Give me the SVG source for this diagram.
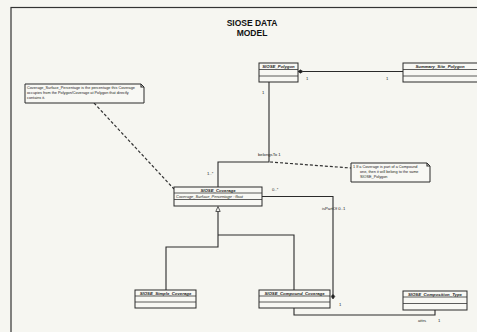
<svg xmlns="http://www.w3.org/2000/svg" width="477" height="332" viewBox="0 0 477 332">
<style>
.bg{fill:#f6f6f1}
.frame{fill:none;stroke:#333;stroke-width:1.2}
.box{fill:#f8f8f4;stroke:#2a2a2a;stroke-width:1}
.sep{stroke:#333;stroke-width:0.8}
.ln{fill:none;stroke:#2a2a2a;stroke-width:1.1}
.dash{fill:none;stroke:#333;stroke-width:1.2;stroke-dasharray:3,2}
.note{fill:#f8f8f4;stroke:#2a2a2a;stroke-width:1}
.cn{font-family:"Liberation Sans",Arial,sans-serif;font-size:4.3px;font-weight:bold;font-style:italic;fill:#222;text-anchor:middle}
.at{font-family:"Liberation Sans",Arial,sans-serif;font-size:4px;font-style:italic;fill:#222}
.nt{font-family:"Liberation Sans",Arial,sans-serif;font-size:3.8px;fill:#222}
.lb{font-family:"Liberation Sans",Arial,sans-serif;font-size:4.2px;fill:#222}
.title{font-family:"Liberation Sans",Arial,sans-serif;font-size:8.5px;font-weight:bold;fill:#111;text-anchor:middle}
</style>
<rect class="bg" x="0" y="0" width="477" height="332"/>
<rect class="frame" x="11" y="7.5" width="470" height="330"/>
<text class="title" x="252" y="26">SIOSE DATA</text>
<text class="title" x="252" y="36">MODEL</text>

<g id="connectors">
  <line class="ln" x1="403" y1="71.5" x2="303" y2="71.5"/>
  <polygon points="298,71.5 300.5,69.8 303,71.5 300.5,73.2" fill="#222" stroke="#222" stroke-width="0.6"/>
  <text class="lb" x="306" y="80">1</text>
  <text class="lb" x="386" y="80">1</text>
  <polyline class="ln" points="269,82 269,162 218,162 218,187"/>
  <text class="lb" x="262" y="94">1</text>
  <text class="lb" x="258" y="156">belongsTo  1</text>
  <text class="lb" x="207" y="175">1..*</text>
  <line class="dash" x1="270" y1="162" x2="351" y2="168"/>
  <line class="dash" x1="94" y1="103" x2="174" y2="189"/>
  <polyline class="ln" points="262,196.5 333,196.5 333,294"/>
  <polygon points="333,299 331.2,296.5 333,294 334.8,296.5" fill="#222" stroke="#222" stroke-width="0.6"/>
  <text class="lb" x="272" y="191">0..*</text>
  <text class="lb" x="322" y="210">isPartOf 0..1</text>
  <text class="lb" x="339" y="306">1</text>
  <polygon points="218,206.5 215.8,211.5 220.2,211.5" fill="#f8f8f4" stroke="#333" stroke-width="0.8"/>
  <polyline class="ln" points="218,211.5 218,247 166,247 166,290"/>
  <polyline class="ln" points="218,235 294,235 294,290"/>
  <polyline class="ln" points="294,308 294,315 435,315 435,310"/>
  <text class="lb" x="418" y="322">attrs</text>
  <text class="lb" x="438" y="322">1</text>
</g>

<g id="siose_polygon">
  <rect class="box" x="259" y="63" width="39" height="19"/>
  <line class="sep" x1="259" y1="69.5" x2="298" y2="69.5"/>
  <line class="sep" x1="259" y1="76" x2="298" y2="76"/>
  <text class="cn" x="278.5" y="67.8">SIOSE_Polygon</text>
</g>

<g id="summary_site_polygon">
  <rect class="box" x="403" y="63" width="80" height="19"/>
  <line class="sep" x1="403" y1="69.5" x2="477" y2="69.5"/>
  <line class="sep" x1="403" y1="76" x2="477" y2="76"/>
  <text class="cn" x="440" y="67.8">Summary_Site_Polygon</text>
</g>

<g id="note1">
  <polygon class="note" points="25,84 141,84 144,87 144,103 25,103"/>
  <polyline class="ln" points="141,84 141,87 144,87" stroke-width="0.7"/>
  <text class="nt" x="27" y="89">Coverage_Surface_Percentage is the percentage this Coverage</text>
  <text class="nt" x="27" y="94">occupies from the Polygon/Coverage at Polygon that directly</text>
  <text class="nt" x="27" y="99">contains it.</text>
</g>

<g id="note2">
  <polygon class="note" points="351,163 427,163 430,166 430,182 351,182"/>
  <polyline class="ln" points="427,163 427,166 430,166" stroke-width="0.7"/>
  <text class="nt" x="353" y="168">1  If a Coverage is part of a Compound</text>
  <text class="nt" x="360" y="173">one, then it will belong to the same</text>
  <text class="nt" x="360" y="178">SIOSE_Polygon</text>
</g>

<g id="siose_coverage">
  <rect class="box" x="174" y="187" width="88" height="19"/>
  <line class="sep" x1="174" y1="193" x2="262" y2="193"/>
  <line class="sep" x1="174" y1="199.5" x2="262" y2="199.5"/>
  <text class="cn" x="218" y="191.6">SIOSE_Coverage</text>
  <text class="at" x="176" y="197.6">Coverage_Surface_Percentage : float</text>
</g>

<g id="simple_coverage">
  <rect class="box" x="135" y="290" width="61" height="18"/>
  <line class="sep" x1="135" y1="296" x2="196" y2="296"/>
  <line class="sep" x1="135" y1="302" x2="196" y2="302"/>
  <text class="cn" x="165.5" y="294.5">SIOSE_Simple_Coverage</text>
</g>

<g id="compound_coverage">
  <rect class="box" x="259" y="290" width="71" height="18"/>
  <line class="sep" x1="259" y1="296" x2="330" y2="296"/>
  <line class="sep" x1="259" y1="302" x2="330" y2="302"/>
  <text class="cn" x="294.5" y="294.5">SIOSE_Compound_Coverage</text>
</g>

<g id="composition_type">
  <rect class="box" x="403" y="291" width="64" height="19"/>
  <line class="sep" x1="403" y1="297" x2="467" y2="297"/>
  <line class="sep" x1="403" y1="303.5" x2="467" y2="303.5"/>
  <text class="cn" x="435" y="295.6">SIOSE_Composition_Type</text>
</g>
</svg>
